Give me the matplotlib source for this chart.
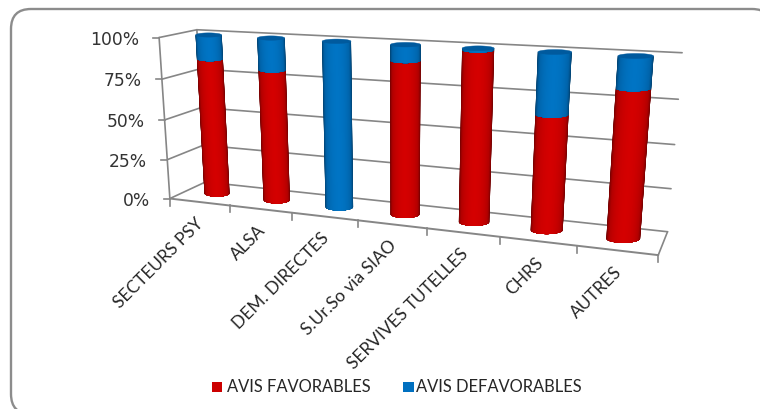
"""Stacked 100% cylinders on a perspective floor, drawn in pixel space"""
import numpy as np
import matplotlib
matplotlib.use("Agg")
import matplotlib.pyplot as plt
from matplotlib.collections import PolyCollection
from matplotlib.colors import LinearSegmentedColormap
from matplotlib.patches import FancyBboxPatch, Rectangle

categories = ["SECTEURS PSY", "ALSA", "DEM. DIRECTES", "S.Ur.So via SIAO",
              "SERVIVES TUTELLES", "CHRS", "AUTRES"]
favorables = [85.5, 81, 0, 91, 99, 66, 83]
defavorables = [14.5, 19, 100, 9, 1, 34, 17]
value_ticks = [0, 25, 50, 75, 100]
series_names = ["AVIS FAVORABLES", "AVIS DEFAVORABLES"]

RED = LinearSegmentedColormap.from_list("red", ["#680000", "#b40000", "#d40000"])
BLUE = LinearSegmentedColormap.from_list("blue", ["#003c68", "#0064aa", "#0074c4"])
GRID = "#868686"

plt.rcParams["font.family"] = "Lato"


def fit_camera():
    # (category, depth, height) against where the box corners sit on the canvas
    pairs = [((0, 0, 0), (171, 198)), ((7, 0, 0), (658, 256)),
             ((1, 0, 0), (230, 205)), ((4, 0, 0), (427, 228.5)),
             ((6, 0, 0), (577, 246.5)),
             ((0, 1, 0), (204, 183)), ((7, 1, 0), (668, 230)),
             ((0, 0, 1), (158, 37)), ((0, 1, 1), (198, 30)),
             ((7, 1, 1), (682, 53))]
    rows, rhs = [], []
    for (x, y, z), (u, v) in pairs:
        rows.append([x, y, z, 1, 0, 0, 0, 0, -u * x, -u * y, -u * z])
        rows.append([0, 0, 0, 0, x, y, z, 1, -v * x, -v * y, -v * z])
        rhs += [u, v]
    m = np.linalg.lstsq(np.array(rows, float), np.array(rhs, float), rcond=None)[0]
    return np.append(m, 1).reshape(3, 4)


CAM = fit_camera()


def project(x, y, z):
    p = np.tensordot(CAM, np.array([x, y, z, np.ones_like(x)], float), axes=1)
    return p[0] / p[2], p[1] / p[2]


def line3d(ax, a, b, **kw):
    xs, ys = project(np.array([a[0], b[0]], float), np.array([a[1], b[1]], float),
                     np.array([a[2], b[2]], float))
    ax.plot(xs, ys, color=GRID, solid_capstyle="round", **kw)


def ring(cx, z, th, rx=0.215, ry=0.14):
    """Level ellipse around a bar axis, sized from the local scale at that height"""
    z = np.full_like(th, z, dtype=float)
    mx, my = project(np.full_like(z, cx), np.full_like(z, 0.5), z)
    xa, _ = project(np.full_like(z, cx - rx), np.full_like(z, 0.5), z)
    xb, _ = project(np.full_like(z, cx + rx), np.full_like(z, 0.5), z)
    _, ya = project(np.full_like(z, cx), np.full_like(z, 0.5 - ry), z)
    _, yb = project(np.full_like(z, cx), np.full_like(z, 0.5 + ry), z)
    half_w = 0.5 * (xb - xa)
    half_h = 0.5 * np.abs(ya - yb) + 1.0
    return mx + half_w * np.cos(th), my - half_h * np.sin(th)


def cylinder(ax, cx, z0, z1, cmap):
    """Front of a cylinder as nested bands, darkest and widest first"""
    insets = np.linspace(0, np.pi / 2 - 0.02, 42)
    polys = []
    for a in insets:
        th = np.linspace(np.pi + a, 2 * np.pi - a, 24)
        bx, by = ring(cx, z0, th)
        tx, ty = ring(cx, z1, th)
        polys.append(np.column_stack([np.r_[bx, tx[::-1]], np.r_[by, ty[::-1]]]))
    colors = cmap(np.sin(insets) ** 1.1)
    ax.add_collection(PolyCollection(polys, facecolors=colors, edgecolors="none", zorder=3))


def cap(ax, cx, z, color):
    th = np.linspace(0, 2 * np.pi, 72)
    xs, ys = ring(cx, z, th)
    ax.fill(xs, ys, color=color, lw=0.3, zorder=4)


fig = plt.figure(figsize=(7.6, 4.09), dpi=100)
ax = fig.add_axes([0, 0, 1, 1])
ax.set_xlim(0, 760)
ax.set_ylim(409, 0)
ax.axis("off")

# chart area frame, running off the right and bottom of the canvas
ax.add_patch(FancyBboxPatch((11, 9), 761, 405, boxstyle="round,pad=0,rounding_size=20",
                            fc="white", ec="#8c8c8c", lw=1.7, zorder=0))

# walls and floor
n = len(categories)
for t in value_ticks:
    z = t / 100
    line3d(ax, (0, 0, z), (0, 1, z), lw=1.2, zorder=1)
    line3d(ax, (0, 1, z), (n, 1, z), lw=1.2, zorder=1)
    x0, y0 = project(np.array(0.0), np.array(0.0), np.array(z))
    ax.plot([x0 - 6, x0], [y0, y0], color=GRID, lw=1.2, zorder=1)
    ax.text(x0 - 20, y0 + 2, f"{t}%", ha="right", va="center", fontsize=12.3,
            family="DejaVu Sans", color="#333333")

line3d(ax, (0, 0, 0), (0, 0, 1), lw=1.2, zorder=1)
line3d(ax, (0, 1, 0), (0, 1, 1), lw=1.2, zorder=1)
line3d(ax, (0, 0, 0), (n, 0, 0), lw=1.4, zorder=1)
line3d(ax, (n, 0, 0), (n, 1, 0), lw=1.2, zorder=1)

for i in range(n + 1):
    x0, y0 = project(np.array(float(i)), np.array(0.0), np.array(0.0))
    ax.plot([x0, x0], [y0, y0 + 7], color=GRID, lw=1.2, zorder=1)

for i, (fav, dfv) in enumerate(zip(favorables, defavorables)):
    cx = i + 0.5
    f = fav / 100
    top = (fav + dfv) / 100
    if fav > 0:
        cylinder(ax, cx, 0, f, RED)
    cylinder(ax, cx, f, top, BLUE)
    cap(ax, cx, top, "#005a9e")

    lx, ly = project(np.array(cx), np.array(0.0), np.array(0.0))
    ax.text(lx + 2, ly + 19, categories[i], rotation=45, rotation_mode="anchor",
            ha="right", va="center", fontsize=12.5, color="#262626")

# legend row
ax.add_patch(Rectangle((212, 382), 9.5, 10, fc="#cc0000", ec="none"))
ax.add_patch(Rectangle((403, 382), 10.5, 10, fc="#0070c0", ec="none"))
ax.text(227, 387, series_names[0], va="center", fontsize=11.9, color="#262626")
ax.text(416, 387, series_names[1], va="center", fontsize=11.9, color="#262626")

fig.savefig("out.png", dpi=100)
